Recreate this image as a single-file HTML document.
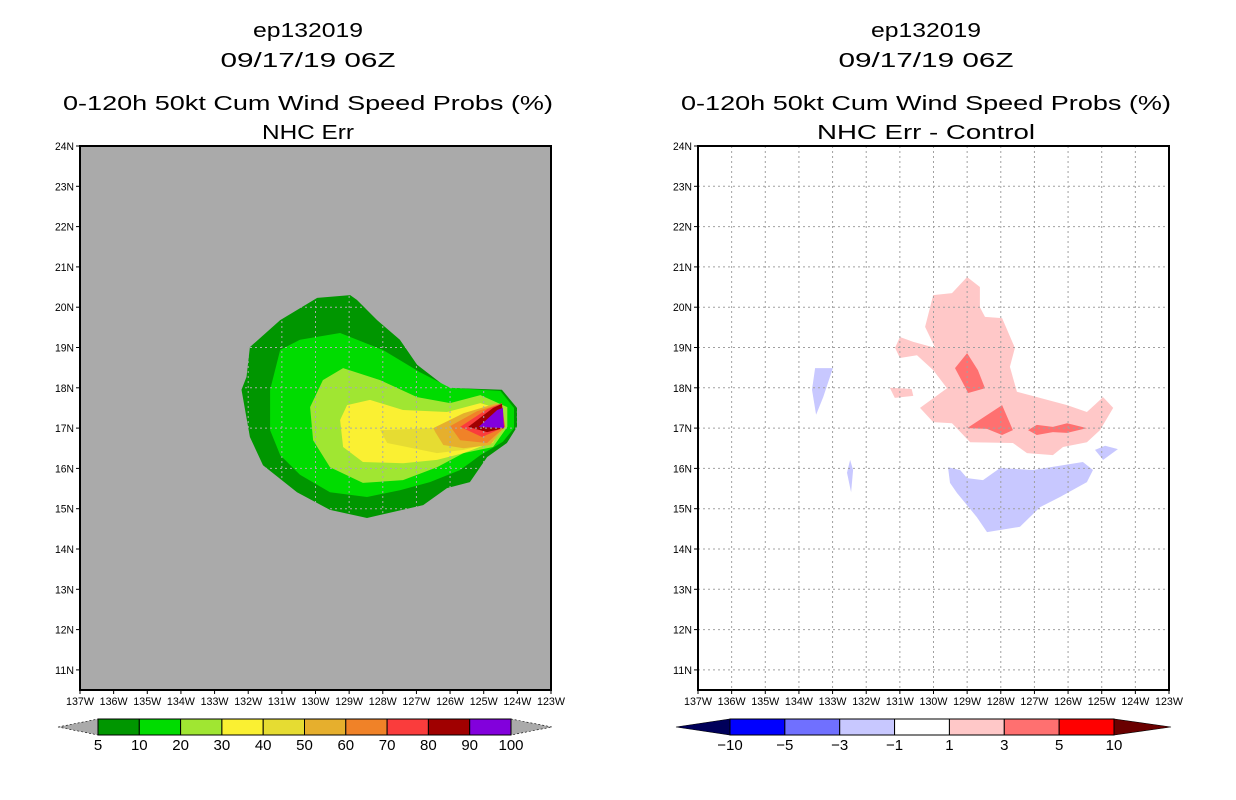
<!DOCTYPE html>
<html><head><meta charset="utf-8"><style>
html,body{margin:0;padding:0;background:#fff;}
svg{display:block;font-family:"Liberation Sans",sans-serif;}
</style></head><body>
<svg id="chart" width="1236" height="800" viewBox="0 0 1236 800" xmlns="http://www.w3.org/2000/svg">
<g font-size="20" text-anchor="middle" fill="#000">
<text x="308" y="37" textLength="110" lengthAdjust="spacingAndGlyphs">ep132019</text>
<text x="308" y="67" textLength="175" lengthAdjust="spacingAndGlyphs">09/17/19 06Z</text>
<text x="308" y="110" textLength="490" lengthAdjust="spacingAndGlyphs">0-120h 50kt Cum Wind Speed Probs (%)</text>
<text x="308" y="139" textLength="92" lengthAdjust="spacingAndGlyphs">NHC Err</text>
</g>
<g font-size="20" text-anchor="middle" fill="#000">
<text x="926" y="37" textLength="110" lengthAdjust="spacingAndGlyphs">ep132019</text>
<text x="926" y="67" textLength="175" lengthAdjust="spacingAndGlyphs">09/17/19 06Z</text>
<text x="926" y="110" textLength="490" lengthAdjust="spacingAndGlyphs">0-120h 50kt Cum Wind Speed Probs (%)</text>
<text x="926" y="139" textLength="218" lengthAdjust="spacingAndGlyphs">NHC Err - Control</text>
</g>
<g id="left"></g>
<g id="right"></g>
<g id="cbl"></g>
<g id="cbr"></g>
</svg>
<script>
const lonTicks=[137,136,135,134,133,132,131,130,129,128,127,126,125,124,123];
const latTicks=[24,23,22,21,20,19,18,17,16,15,14,13,12,11];
const probLevels=["5","10","20","30","40","50","60","70","80","90","100"];
const probColors=["#009600","#00dc00","#a0e632","#faf032","#e6dc32","#e6af2d","#f08228","#fa3c3c","#a00000","#8200dc"];
const diffLevels=["-10","-5","-3","-1","1","3","5","10"];
const diffColors=["#0000ff","#7070ff","#c8c8ff","#ffffff","#ffc8c8","#ff7070","#ff0000"];
// probability contours [lonW, latN]
const p5=[[128.97,20.30],[128.77,20.18],[128.17,19.68],[127.49,19.19],[126.98,18.57],[126.09,18.0],[124.46,17.95],[124.01,17.5],[124.01,17.03],[124.31,16.63],[124.9,16.28],[125.41,15.66],[126.09,15.51],[126.8,15.09],[128.47,14.77],[129.57,14.97],[130.55,15.41],[131.56,16.08],[131.95,16.78],[132.2,17.95],[132.05,18.27],[131.95,19.01],[131.05,19.68],[129.95,20.23]];
const p10=[[129.27,19.36],[128.0,18.94],[126.9,18.39],[126.0,18.0],[124.5,17.92],[124.1,17.5],[124.1,17.0],[124.43,16.66],[125.1,16.33],[125.7,15.96],[126.6,15.66],[127.49,15.46],[128.47,15.29],[129.57,15.41],[130.46,15.84],[131.05,16.33],[131.35,16.95],[131.35,17.95],[131.05,18.94],[130.46,19.19]];
const p20=[[129.18,18.49],[128.08,18.19],[126.98,17.77],[126.0,17.62],[125.1,17.82],[124.3,17.52],[124.3,17.03],[124.72,16.53],[125.6,16.38],[126.39,16.03],[127.4,15.71],[128.59,15.64],[129.57,16.03],[130.07,16.7],[130.16,17.52],[129.78,18.19]];
const p30=[[128.38,17.7],[127.4,17.45],[126.09,17.4],[125.1,17.62],[124.43,17.45],[124.43,17.03],[124.81,16.63],[125.6,16.38],[126.39,16.21],[127.4,16.13],[128.59,16.16],[129.18,16.53],[129.27,17.2],[129.06,17.57]];
const p40=[[128.08,16.95],[126.5,17.0],[125.6,17.2],[124.72,17.52],[124.43,17.13],[124.72,16.63],[125.6,16.46],[126.39,16.38],[127.87,16.63]];
const p50=[[126.5,17.0],[125.6,17.37],[124.6,17.62],[124.37,17.03],[124.81,16.58],[125.6,16.5],[126.2,16.58],[126.44,16.9]];
const p60=[[126.0,17.05],[125.2,17.42],[124.5,17.6],[124.37,17.03],[124.9,16.63],[125.7,16.7]];
const p70=[[125.7,17.03],[124.9,17.47],[124.46,17.62],[124.37,17.03],[125.05,16.78]];
const p80=[[125.46,17.03],[124.72,17.5],[124.46,17.6],[124.4,17.0],[124.9,16.9]];
const p90=[[125.15,17.03],[124.6,17.45],[124.43,17.5],[124.4,17.0]];
// difference contours
const dPos1a=[[129.0,20.75],[128.62,20.5],[128.62,20.0],[128.47,19.76],[127.96,19.73],[127.58,18.99],[127.73,18.52],[127.52,17.9],[126.03,17.57],[125.44,17.4],[124.96,17.77],[124.66,17.5],[125.05,16.95],[125.44,16.65],[126.15,16.53],[126.45,16.33],[127.22,16.38],[127.64,16.63],[128.91,16.65],[129.45,17.12],[130.01,17.15],[130.4,17.5],[129.6,17.99],[130.01,18.44],[130.49,18.81],[131.0,18.74],[131.14,18.99],[131.0,19.26],[130.6,19.14],[129.95,18.99],[130.25,19.51],[130.01,20.3],[129.45,20.35]];
const dPos1b=[[131.3,18.0],[130.65,17.97],[130.6,17.8],[131.15,17.75]];
const dPos3a=[[129.36,18.49],[129.0,18.86],[128.68,18.44],[128.47,17.99],[128.97,17.87]];
const dPos3b=[[129.0,17.0],[127.96,17.57],[127.64,16.95],[127.96,16.83],[128.41,16.98]];
const dPos3c=[[127.19,16.95],[126.93,17.08],[126.45,17.03],[126.03,17.12],[125.44,17.0],[126.03,16.88],[126.45,16.9],[126.93,16.83]];
const dNeg1a=[[129.57,16.03],[129.21,15.96],[129.0,15.76],[128.53,15.71],[128.02,16.01],[127.04,15.96],[125.56,16.16],[125.26,15.96],[125.44,15.66],[126.24,15.29],[126.83,15.04],[127.43,14.55],[128.41,14.42],[128.71,14.79],[129.3,15.39],[129.51,15.64]];
const dNeg1b=[[125.2,16.46],[124.9,16.56],[124.52,16.48],[124.96,16.21]];
const dNeg1c=[[133.52,18.49],[132.99,18.49],[133.28,17.77],[133.49,17.33],[133.61,17.95]];
const dNeg1d=[[132.48,16.21],[132.39,15.96],[132.45,15.41],[132.57,15.89]];

const NS="http://www.w3.org/2000/svg";
function mk(tag,attrs,parent){const e=document.createElementNS(NS,tag);for(const k in attrs)e.setAttribute(k,attrs[k]);parent.appendChild(e);return e;}
const PW=471, PH=544, TOP=146;
function xs(x0){return lonW=>x0+(137-lonW)/14*PW;}
function ys(lat){return TOP+(24-lat)*40.3;}

function panel(g,x0,bg,gridCol,polys){
  const X=xs(x0);
  const bgr=mk('rect',{x:x0,y:TOP,width:PW,height:PH,fill:bg},g);
  
  
  polys.forEach(([pts,col,name])=>{
    const p=mk('polygon',{points:pts.map(q=>X(q[0]).toFixed(1)+','+ys(q[1]).toFixed(1)).join(' '),fill:col},g);
    
    
  });
  const grid=mk('g',{stroke:gridCol,'stroke-width':1,'stroke-dasharray':'2,3'},g);
  
  
  lonTicks.slice(1,-1).forEach(l=>mk('line',{x1:X(l),x2:X(l),y1:TOP,y2:TOP+PH},grid));
  latTicks.slice(1).forEach(l=>mk('line',{x1:x0,x2:x0+PW,y1:ys(l),y2:ys(l)},grid));
  const fr=mk('rect',{x:x0,y:TOP,width:PW,height:PH,fill:'none',stroke:'#000','stroke-width':2},g);
  
  
  const ax=mk('g',{'font-size':11,fill:'#000'},g);
  
  
  lonTicks.forEach(l=>{
    mk('line',{x1:X(l),x2:X(l),y1:TOP+PH,y2:TOP+PH+4,stroke:'#000'},ax);
    const t=mk('text',{x:X(l)-14,y:TOP+PH+15,textLength:28,lengthAdjust:'spacingAndGlyphs'},ax);
    t.textContent=l+'W';
    
    
  });
  latTicks.forEach(l=>{
    mk('line',{x1:x0-4,x2:x0,y1:ys(l),y2:ys(l),stroke:'#000'},ax);
    const t=mk('text',{x:x0-25,y:ys(l)+4,textLength:19,lengthAdjust:'spacingAndGlyphs'},ax);
    t.textContent=l+'N';
    
    
  });
}
panel(document.getElementById('left'),80,'#aaaaaa','#aaaaaa',[
 [p5,probColors[0],'contour-5'],[p10,probColors[1],'contour-10'],[p20,probColors[2],'contour-20'],[p30,probColors[3],'contour-30'],[p40,probColors[4],'contour-40'],[p50,probColors[5],'contour-50'],[p60,probColors[6],'contour-60'],[p70,probColors[7],'contour-70'],[p80,probColors[8],'contour-80'],[p90,probColors[9],'contour-90']]);
panel(document.getElementById('right'),698,'#ffffff','#a0a0a0',[
 [dPos1a,diffColors[4],'diff-pos-1-main'],[dPos1b,diffColors[4],'diff-pos-1-small'],[dPos3a,diffColors[5],'diff-pos-3-north'],[dPos3b,diffColors[5],'diff-pos-3-center'],[dPos3c,diffColors[5],'diff-pos-3-east'],
 [dNeg1a,diffColors[2],'diff-neg-1-main'],[dNeg1b,diffColors[2],'diff-neg-1-east'],[dNeg1c,diffColors[2],'diff-neg-1-west'],[dNeg1d,diffColors[2],'diff-neg-1-southwest']]);

function colorbar(g,x0,x1,tipL,tipR,colors,labels,lcol,rcol){
  const y0=719,y1=735,w=(x1-x0)/colors.length,ym=(y0+y1)/2;
  const a=mk('polygon',{points:`${tipL},${ym} ${x0},${y0} ${x0},${y1}`,fill:lcol,stroke:'#000','stroke-width':0.6,'stroke-dasharray':lcol=='#aaaaaa'?'2,2':'none'},g);
  
  
  const b=mk('polygon',{points:`${tipR},${ym} ${x1},${y0} ${x1},${y1}`,fill:rcol,stroke:'#000','stroke-width':0.6,'stroke-dasharray':rcol=='#aaaaaa'?'2,2':'none'},g);
  
  
  colors.forEach((c,i)=>{
    const r=mk('rect',{x:x0+i*w,y:y0,width:w,height:y1-y0,fill:c,stroke:'#000','stroke-width':1},g);
    
    
  });
  labels.forEach((l,i)=>{
    const t=mk('text',{x:x0+i*w,y:y1+15,'text-anchor':'middle','font-size':15,fill:'#000'},g);
    t.textContent=l.replace('-','\u2212');
    
    
  });
}
colorbar(document.getElementById('cbl'),98,511,58,552,probColors,probLevels,'#aaaaaa','#aaaaaa');
colorbar(document.getElementById('cbr'),730,1114,676,1171,diffColors,diffLevels,'#00005a','#6a0000');
</script>
</body></html>
